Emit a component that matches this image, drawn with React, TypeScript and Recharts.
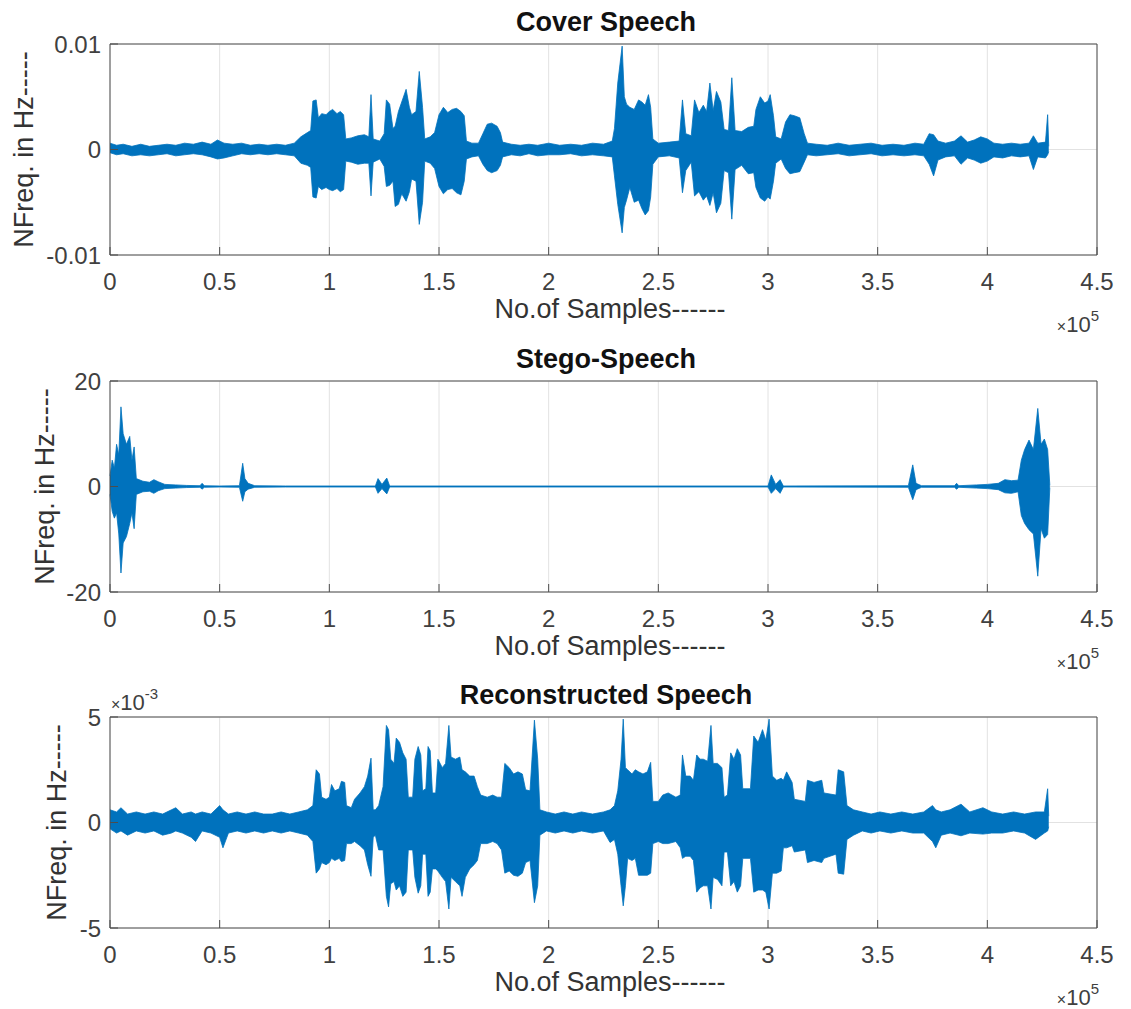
import React from 'react';
import { ComposedChart, Area, XAxis, YAxis, CartesianGrid } from 'recharts';

// MATLAB-style subplot figure: three speech waveforms drawn as min/max envelopes.
const FONT = '"Liberation Sans", Arial, Helvetica, sans-serif';
const BLUE = '#0072BD';
const AXIS = '#4d4d4d';
const TEXT = '#404040';

const xTicks = [0, 0.5, 1, 1.5, 2, 2.5, 3, 3.5, 4, 4.5];
const coverTicks = [-0.01, 0, 0.01];
const stegoTicks = [-20, 0, 20];
const reconTicks = [-5, 0, 5];

// [x (×10^5 samples), upper envelope, lower envelope] — values in ×10^-3
const coverEnvelope: [number, number, number][] = [
  [0, 0.6, -0.3], [0.03, 0.4, -0.5], [0.06, 0.5, -0.4], [0.1, 0.3, -0.6], [0.14, 0.5, -0.5],
  [0.18, 0.3, -0.6], [0.22, 0.4, -0.5], [0.26, 0.5, -0.4], [0.3, 0.4, -0.6], [0.34, 0.6, -0.5],
  [0.38, 0.5, -0.4], [0.42, 0.7, -0.5], [0.46, 0.5, -0.7], [0.49, 0.9, -0.9], [0.52, 0.6, -0.8],
  [0.56, 0.5, -0.6], [0.6, 0.6, -0.4], [0.64, 0.4, -0.5], [0.68, 0.5, -0.4], [0.72, 0.4, -0.5],
  [0.76, 0.5, -0.4], [0.8, 0.4, -0.5], [0.84, 0.6, -0.6], [0.87, 1.2, -1.3], [0.9, 1.6, -1.5],
  [0.915, 1.8, -1.7], [0.925, 4.6, -4.5], [0.94, 4.7, -4.6], [0.95, 3.0, -3.5], [0.965, 3.4, -3.8],
  [0.985, 3.3, -3.6], [1.0, 3.6, -3.8], [1.015, 3.8, -3.9], [1.035, 3.4, -3.7], [1.05, 3.6, -4.0],
  [1.065, 3.3, -3.8], [1.075, 1.0, -1.1], [1.1, 1.1, -1.2], [1.13, 1.3, -1.4], [1.16, 1.4, -1.3],
  [1.18, 1.2, -1.3], [1.19, 5.2, -4.4], [1.2, 1.0, -1.2], [1.23, 0.8, -0.9], [1.25, 1.5, -1.6],
  [1.26, 4.7, -3.5], [1.275, 4.3, -3.4], [1.29, 2.0, -3.0], [1.3, 2.2, -5.4], [1.315, 3.6, -5.2],
  [1.33, 4.5, -4.2], [1.35, 5.7, -4.9], [1.365, 4.0, -4.0], [1.375, 3.3, -2.8], [1.395, 3.6, -3.0],
  [1.41, 7.4, -7.1], [1.425, 4.0, -5.0], [1.435, 1.0, -1.1], [1.46, 1.2, -1.3], [1.48, 1.6, -1.8],
  [1.5, 3.3, -3.5], [1.52, 4.0, -4.2], [1.54, 3.5, -3.8], [1.56, 3.8, -3.7], [1.58, 3.9, -4.1],
  [1.6, 3.6, -4.3], [1.615, 3.2, -3.0], [1.625, 0.8, -0.9], [1.65, 0.6, -0.7], [1.68, 0.6, -0.6],
  [1.7, 1.5, -1.4], [1.72, 2.4, -2.0], [1.74, 2.5, -2.2], [1.765, 2.2, -2.0], [1.78, 1.6, -1.5],
  [1.79, 0.7, -0.7], [1.83, 0.5, -0.5], [1.87, 0.4, -0.6], [1.91, 0.5, -0.4], [1.95, 0.4, -0.6],
  [2.0, 0.6, -0.5], [2.05, 0.4, -0.5], [2.1, 0.5, -0.4], [2.15, 0.4, -0.6], [2.2, 0.6, -0.5],
  [2.25, 0.5, -0.6], [2.29, 0.8, -0.7], [2.3, 2.0, -2.5], [2.315, 6.3, -5.2], [2.335, 9.8, -7.9],
  [2.345, 5.0, -5.5], [2.355, 4.3, -4.8], [2.37, 4.0, -3.6], [2.39, 3.8, -5.0], [2.41, 4.7, -4.8],
  [2.425, 4.5, -5.6], [2.44, 4.2, -6.2], [2.455, 5.2, -5.8], [2.465, 4.0, -4.5], [2.475, 1.0, -1.4],
  [2.5, 0.6, -0.7], [2.55, 0.7, -0.6], [2.595, 0.8, -0.8], [2.61, 4.7, -4.1], [2.625, 1.5, -2.0],
  [2.65, 1.3, -1.2], [2.665, 4.7, -4.4], [2.685, 3.5, -4.0], [2.705, 4.2, -4.8], [2.72, 3.6, -4.4],
  [2.735, 6.3, -5.3], [2.75, 3.7, -4.1], [2.765, 5.5, -6.0], [2.785, 4.5, -5.1], [2.8, 1.9, -2.0],
  [2.82, 1.8, -2.2], [2.835, 6.8, -6.6], [2.85, 1.8, -1.9], [2.88, 1.7, -1.5], [2.91, 2.1, -2.3],
  [2.935, 2.2, -2.2], [2.945, 3.8, -3.6], [2.965, 5.0, -4.6], [2.985, 4.4, -4.9], [3.0, 4.6, -4.5],
  [3.01, 5.2, -4.7], [3.025, 3.2, -3.0], [3.035, 1.2, -1.3], [3.06, 1.0, -0.9], [3.08, 2.6, -1.8],
  [3.1, 3.3, -2.3], [3.12, 3.2, -2.2], [3.145, 3.0, -2.1], [3.165, 1.5, -1.2], [3.18, 0.6, -0.5],
  [3.22, 0.5, -0.6], [3.27, 0.4, -0.5], [3.32, 0.6, -0.4], [3.37, 0.4, -0.6], [3.42, 0.5, -0.5],
  [3.47, 0.6, -0.4], [3.52, 0.4, -0.6], [3.57, 0.5, -0.5], [3.62, 0.4, -0.6], [3.67, 0.6, -0.5],
  [3.71, 0.5, -0.6], [3.735, 1.5, -1.4], [3.755, 1.4, -2.5], [3.775, 0.8, -1.0], [3.81, 0.6, -0.7],
  [3.85, 0.8, -0.6], [3.88, 1.3, -1.4], [3.91, 0.7, -0.8], [3.94, 0.9, -1.0], [3.97, 1.2, -1.3],
  [4.0, 1.0, -1.1], [4.03, 0.6, -0.7], [4.07, 0.5, -0.8], [4.11, 0.6, -0.6], [4.15, 0.5, -0.7],
  [4.19, 0.6, -0.6], [4.21, 1.3, -1.9], [4.23, 0.6, -0.7], [4.265, 0.7, -0.8], [4.275, 3.3, -0.5],
  [4.28, 0.3, -0.2],
];

// [x (×10^5 samples), upper, lower]
const stegoEnvelope: [number, number, number][] = [
  [0, 2.0, -1.5], [0.01, 5.0, -4.7], [0.02, 3.5, -6.0], [0.03, 8.0, -5.0], [0.04, 6.0, -9.0],
  [0.05, 15.1, -16.4], [0.06, 10.0, -10.7], [0.075, 8.0, -9.5], [0.09, 9.5, -7.0], [0.1, 5.0, -5.0],
  [0.11, 7.5, -8.0], [0.12, 1.5, -1.5], [0.15, 1.0, -1.0], [0.18, 0.8, -0.9], [0.2, 1.3, -1.3],
  [0.22, 0.9, -0.8], [0.25, 0.4, -0.4], [0.3, 0.3, -0.3], [0.35, 0.2, -0.2], [0.41, 0.15, -0.15],
  [0.42, 0.6, -0.5], [0.43, 0.15, -0.15], [0.5, 0.1, -0.1], [0.59, 0.15, -0.15], [0.605, 4.4, -2.8],
  [0.615, 1.5, -1.0], [0.63, 0.6, -0.5], [0.66, 0.15, -0.15], [0.8, 0.1, -0.1], [1.0, 0.1, -0.1],
  [1.21, 0.1, -0.1], [1.222, 1.5, -1.3], [1.24, 0.4, -0.4], [1.262, 1.6, -1.4], [1.275, 0.1, -0.1],
  [1.6, 0.1, -0.1], [2.0, 0.1, -0.1], [2.5, 0.1, -0.1], [3.0, 0.1, -0.1], [3.015, 2.2, -1.3],
  [3.035, 0.4, -0.4], [3.055, 1.3, -1.3], [3.07, 0.1, -0.1], [3.64, 0.15, -0.15], [3.66, 4.1, -2.5],
  [3.675, 0.6, -0.6], [3.7, 0.15, -0.15], [3.85, 0.15, -0.15], [3.86, 0.6, -0.5], [3.87, 0.15, -0.15],
  [3.95, 0.3, -0.3], [4.0, 0.4, -0.4], [4.05, 0.6, -0.6], [4.08, 1.3, -1.2], [4.11, 1.1, -1.3],
  [4.14, 1.2, -1.0], [4.155, 5.0, -5.5], [4.17, 7.0, -7.0], [4.19, 8.8, -8.2], [4.21, 7.0, -9.0],
  [4.23, 14.8, -17.0], [4.245, 8.0, -8.0], [4.26, 9.0, -9.8], [4.275, 7.0, -9.1], [4.285, 0.2, -0.2],
];

// [x (×10^5 samples), upper, lower] — values in ×10^-3
const reconEnvelope: [number, number, number][] = [
  [0, 0.6, -0.3], [0.03, 0.5, -0.5], [0.05, 0.7, -0.4], [0.08, 0.4, -0.6], [0.12, 0.5, -0.4],
  [0.16, 0.4, -0.5], [0.2, 0.5, -0.4], [0.24, 0.4, -0.6], [0.28, 0.6, -0.5], [0.3, 0.7, -0.4],
  [0.33, 0.4, -0.5], [0.37, 0.5, -0.7], [0.39, 0.4, -0.9], [0.42, 0.5, -0.4], [0.46, 0.4, -0.5],
  [0.5, 0.8, -0.7], [0.515, 0.6, -1.2], [0.54, 0.4, -0.5], [0.58, 0.5, -0.4], [0.62, 0.4, -0.5],
  [0.66, 0.5, -0.4], [0.7, 0.4, -0.5], [0.74, 0.4, -0.4], [0.78, 0.5, -0.5], [0.82, 0.4, -0.4],
  [0.86, 0.5, -0.5], [0.9, 0.6, -0.6], [0.925, 0.8, -0.9], [0.94, 2.5, -2.4], [0.955, 2.3, -2.2],
  [0.965, 1.2, -1.9], [0.985, 1.1, -2.0], [1.0, 1.2, -1.9], [1.01, 1.8, -1.7], [1.025, 1.5, -1.8],
  [1.045, 1.6, -1.7], [1.055, 1.95, -1.85], [1.07, 1.9, -1.8], [1.078, 0.8, -1.0], [1.1, 0.7, -1.0],
  [1.115, 1.1, -0.9], [1.14, 1.4, -1.1], [1.16, 1.7, -1.3], [1.175, 2.2, -2.0], [1.19, 3.05, -2.55],
  [1.2, 0.6, -0.7], [1.21, 0.6, -0.6], [1.225, 0.8, -1.3], [1.245, 1.7, -1.3], [1.26, 4.6, -3.5],
  [1.27, 4.4, -4.0], [1.28, 3.0, -2.9], [1.295, 2.8, -2.8], [1.305, 4.0, -3.2], [1.32, 3.8, -3.0],
  [1.335, 3.3, -3.5], [1.35, 3.0, -3.3], [1.36, 1.2, -1.3], [1.38, 1.2, -1.3], [1.39, 3.0, -2.6],
  [1.405, 3.6, -3.35], [1.417, 3.2, -3.0], [1.425, 1.5, -1.5], [1.44, 1.6, -1.5], [1.45, 3.6, -3.5],
  [1.46, 3.4, -3.3], [1.47, 1.4, -2.2], [1.485, 1.4, -2.2], [1.495, 3.0, -2.3], [1.515, 2.6, -2.6],
  [1.53, 2.8, -2.8], [1.545, 4.6, -4.1], [1.555, 3.1, -2.6], [1.575, 3.0, -2.8], [1.595, 3.1, -3.0],
  [1.605, 2.5, -3.5], [1.62, 2.4, -2.6], [1.64, 2.2, -2.2], [1.66, 2.2, -2.0], [1.675, 1.7, -1.8],
  [1.69, 1.3, -1.0], [1.72, 1.2, -1.0], [1.745, 1.3, -0.9], [1.765, 1.2, -1.0], [1.785, 1.2, -1.3],
  [1.8, 2.8, -2.4], [1.82, 2.6, -2.3], [1.84, 2.3, -2.5], [1.86, 2.4, -2.55], [1.88, 2.3, -2.4],
  [1.895, 1.55, -1.9], [1.915, 1.5, -1.8], [1.935, 4.85, -3.8], [1.95, 3.0, -3.0], [1.96, 0.6, -0.6],
  [1.99, 0.5, -0.4], [2.03, 0.4, -0.5], [2.07, 0.5, -0.4], [2.11, 0.4, -0.5], [2.15, 0.5, -0.4],
  [2.2, 0.4, -0.5], [2.25, 0.5, -0.4], [2.28, 0.6, -0.95], [2.3, 0.8, -0.8], [2.315, 1.5, -1.5],
  [2.33, 3.0, -3.0], [2.34, 4.9, -3.95], [2.35, 2.6, -3.0], [2.36, 2.5, -1.7], [2.38, 2.3, -1.8],
  [2.395, 2.5, -1.7], [2.41, 2.4, -2.5], [2.43, 2.3, -2.5], [2.45, 2.4, -2.5], [2.465, 2.85, -2.4],
  [2.475, 1.0, -1.0], [2.5, 1.0, -0.9], [2.52, 1.3, -1.0], [2.545, 1.4, -1.0], [2.58, 1.2, -0.9],
  [2.6, 1.3, -1.2], [2.61, 3.2, -1.7], [2.625, 2.2, -1.6], [2.645, 2.2, -1.6], [2.66, 2.0, -1.8],
  [2.675, 3.2, -3.3], [2.69, 3.0, -3.1], [2.705, 3.0, -3.0], [2.725, 2.9, -3.0], [2.74, 4.6, -4.1],
  [2.75, 2.8, -2.6], [2.77, 2.8, -2.7], [2.79, 2.6, -3.0], [2.8, 1.2, -1.4], [2.815, 1.3, -1.4],
  [2.83, 3.3, -3.0], [2.845, 3.0, -2.8], [2.86, 3.5, -3.3], [2.875, 3.2, -3.0], [2.885, 1.6, -1.7],
  [2.92, 1.6, -1.7], [2.935, 4.1, -3.3], [2.955, 3.8, -3.2], [2.975, 4.4, -3.2], [2.99, 3.9, -3.3],
  [3.005, 4.9, -4.1], [3.02, 2.2, -2.4], [3.04, 2.0, -2.4], [3.06, 2.1, -2.3], [3.07, 2.0, -1.2],
  [3.085, 2.4, -1.2], [3.11, 1.9, -1.1], [3.12, 1.1, -1.4], [3.17, 1.0, -1.3], [3.18, 2.0, -1.9],
  [3.21, 1.9, -1.8], [3.245, 2.0, -1.9], [3.255, 1.4, -1.7], [3.31, 1.3, -1.5], [3.32, 2.5, -2.4],
  [3.345, 2.4, -2.45], [3.36, 0.8, -0.8], [3.39, 0.6, -0.6], [3.43, 0.5, -0.4], [3.47, 0.4, -0.5],
  [3.51, 0.5, -0.4], [3.56, 0.4, -0.5], [3.61, 0.5, -0.4], [3.66, 0.4, -0.5], [3.71, 0.5, -0.5],
  [3.75, 0.8, -0.9], [3.765, 0.6, -1.2], [3.79, 0.5, -0.6], [3.83, 0.6, -0.5], [3.88, 0.87, -0.63],
  [3.92, 0.5, -0.5], [3.98, 0.7, -0.55], [4.02, 0.5, -0.5], [4.07, 0.4, -0.5], [4.12, 0.5, -0.4],
  [4.17, 0.4, -0.5], [4.22, 0.5, -0.8], [4.26, 0.5, -0.5], [4.275, 1.6, -0.4], [4.28, 0.3, -0.2],
];

// one range row per envelope point: [lower, upper]
type Row = { x: number; range: [number, number] };
const toRows = (env: [number, number, number][], scale = 1): Row[] =>
  env.map(([x, hi, lo]) => ({ x, range: [lo * scale, hi * scale] }));

const W = 1131;
const PLOT_RIGHT = 1097;
const TICK_FONT = { fontSize: 24, fill: TEXT, fontFamily: FONT };

type PanelProps = {
  top: number;
  height: number;
  plotTop: number; // relative to panel
  plotBottom: number; // relative to panel
  data: Row[];
  yTicks: number[];
};

function Panel({ top, height, plotTop, plotBottom, data, yTicks }: PanelProps) {
  const domain: [number, number] = [yTicks[0], yTicks[yTicks.length - 1]];
  return (
    <div style={{ position: 'absolute', left: 0, top }}>
      <ComposedChart
        width={W}
        height={height}
        data={data}
        margin={{ top: plotTop, right: W - PLOT_RIGHT, bottom: 0, left: 0 }}
      >
        <CartesianGrid stroke="#e2e2e2" strokeWidth={1} />
        {/* bottom axis: labels outside, tick marks pointing inward */}
        <XAxis
          dataKey="x"
          type="number"
          domain={[0, 4.5]}
          ticks={xTicks}
          interval={0}
          height={height - plotBottom}
          stroke={AXIS}
          tickSize={-8}
          tickMargin={26}
          tick={TICK_FONT}
        />
        <XAxis
          xAxisId="top"
          orientation="top"
          dataKey="x"
          type="number"
          domain={[0, 4.5]}
          ticks={xTicks}
          interval={0}
          mirror
          tick={false}
          tickSize={8}
          stroke={AXIS}
        />
        <YAxis
          type="number"
          domain={domain}
          ticks={yTicks}
          interval={0}
          width={110}
          stroke={AXIS}
          tickSize={-8}
          tickMargin={17}
          tick={TICK_FONT}
        />
        <YAxis
          yAxisId="right"
          orientation="right"
          type="number"
          domain={domain}
          ticks={yTicks}
          interval={0}
          mirror
          tick={false}
          tickSize={8}
          stroke={AXIS}
        />
        <Area
          dataKey="range"
          type="linear"
          stroke={BLUE}
          strokeWidth={0.8}
          fill={BLUE}
          fillOpacity={1}
          dot={false}
          activeDot={false}
          isAnimationActive={false}
        />
      </ComposedChart>
    </div>
  );
}

// absolute page coordinates of each axes box
const panels = [
  { top: 0, height: 330, plotTop: 44, plotBottom: 255, title: 'Cover Speech', yLabelX: 33 },
  { top: 330, height: 330, plotTop: 51, plotBottom: 262, title: 'Stego-Speech', yLabelX: 54 },
  { top: 660, height: 349, plotTop: 57, plotBottom: 268, title: 'Reconstructed Speech', yLabelX: 66 },
];

const panelData = [toRows(coverEnvelope, 0.001), toRows(stegoEnvelope), toRows(reconEnvelope)];
const panelTicks = [coverTicks, stegoTicks, reconTicks];

export default function App() {
  return (
    <div style={{ position: 'absolute', left: 0, top: 0, width: W, height: 1009, background: '#fff' }}>
      {panels.map((p, i) => (
        <Panel
          key={p.title}
          top={p.top}
          height={p.height}
          plotTop={p.plotTop}
          plotBottom={p.plotBottom}
          data={panelData[i]}
          yTicks={panelTicks[i]}
        />
      ))}
      <svg
        width={W}
        height={1009}
        style={{ position: 'absolute', left: 0, top: 0, pointerEvents: 'none' }}
        fontFamily={FONT}
      >
        {panels.map((p) => {
          const yTop = p.top + p.plotTop;
          const yBot = p.top + p.plotBottom;
          const yMid = (yTop + yBot) / 2;
          return (
            <g key={p.title}>
              <text x={606} y={yTop - 13} textAnchor="middle" fontSize={27} fontWeight="bold" fill="#111">
                {p.title}
              </text>
              <text x={610} y={yBot + 63} textAnchor="middle" fontSize={27} fill="#333">
                No.of Samples------
              </text>
              <text
                x={p.yLabelX}
                y={yMid}
                textAnchor="middle"
                fontSize={27}
                fill="#333"
                transform={`rotate(-90 ${p.yLabelX} ${yMid})`}
              >
                NFreq. in Hz-----
              </text>
              <text x={1099} y={yBot + 77} textAnchor="end" fontSize={22} fill={TEXT}>
                <tspan fontSize={16}>×</tspan>10<tspan dy={-11} fontSize={15}>5</tspan>
              </text>
            </g>
          );
        })}
        <text x={111} y={710} fontSize={22} fill={TEXT}>
          <tspan fontSize={16}>×</tspan>10<tspan dy={-11} fontSize={15}>-3</tspan>
        </text>
      </svg>
    </div>
  );
}
